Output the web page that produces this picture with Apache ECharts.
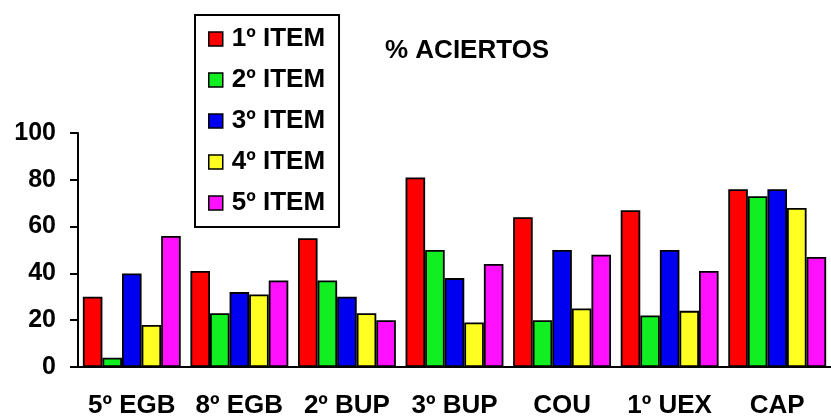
<!DOCTYPE html>
<html><head><meta charset="utf-8">
<style>html,body{margin:0;padding:0;background:#fff}#c{width:831px;height:420px}</style>
<script src="https://cdn.jsdelivr.net/npm/echarts@6/dist/echarts.min.js"></script>
</head><body><div id="c"></div>
<script>
var categories = ['5º EGB', '8º EGB', '2º BUP', '3º BUP', 'COU', '1º UEX', 'CAP'];
var seriesNames = ['1º ITEM', '2º ITEM', '3º ITEM', '4º ITEM', '5º ITEM'];
var item1 = [30, 41, 55, 81, 64, 67, 76];
var item2 = [4, 23, 37, 50, 20, 22, 73];
var item3 = [40, 32, 30, 38, 50, 50, 76];
var item4 = [18, 31, 23, 19, 25, 24, 68];
var item5 = [56, 37, 20, 44, 48, 41, 47];
var colors = ['#ff0000', '#11ee22', '#0000f0', '#ffff22', '#ff11ff'];
var values = [item1, item2, item3, item4, item5];
var font = '"Liberation Sans", Arial, sans-serif';

var chart = echarts.init(document.getElementById('c'), null, {renderer: 'canvas'});
chart.setOption({
  backgroundColor: '#ffffff',
  animation: false,
  title: {
    text: '% ACIERTOS', left: 385, top: 38, padding: 0,
    textStyle: {fontFamily: font, fontWeight: 'bold', fontSize: 26, color: '#000'}
  },
  legend: {
    orient: 'vertical', left: 195, top: 15,
    padding: [11, 14, 11, 13],
    itemGap: 15, itemWidth: 14, itemHeight: 14,
    borderColor: '#000', borderWidth: 2,
    icon: 'rect',
    itemStyle: {borderColor: '#000', borderWidth: 1.5},
    textStyle: {fontFamily: font, fontWeight: 'bold', fontSize: 26, lineHeight: 26, color: '#000', padding: [0, 0, 0, 4]},
    data: seriesNames
  },
  grid: {left: 78, right: -9, top: 133, bottom: 53, containLabel: false},
  xAxis: {
    type: 'category', data: categories, boundaryGap: true,
    axisLine: {lineStyle: {color: '#000', width: 2}},
    axisTick: {interval: 0, length: 6, lineStyle: {color: '#000', width: 2}},
    axisLabel: {interval: 0, margin: 26, fontFamily: font, fontWeight: 'bold', fontSize: 26, color: '#000'}
  },
  yAxis: {
    type: 'value', min: 0, max: 100, interval: 20,
    splitLine: {show: false},
    axisLine: {show: true, lineStyle: {color: '#000', width: 2}},
    axisTick: {show: true, length: 8, lineStyle: {color: '#000', width: 2}},
    axisLabel: {margin: 22, fontFamily: font, fontWeight: 'bold', fontSize: 25, color: '#000'}
  },
  series: seriesNames.map(function (n, i) {
    return {
      name: n, type: 'bar', data: values[i],
      barGap: '0%', barCategoryGap: '9%',
      itemStyle: {color: colors[i], borderColor: '#000', borderWidth: 1.8}
    };
  })
});
</script></body></html>
